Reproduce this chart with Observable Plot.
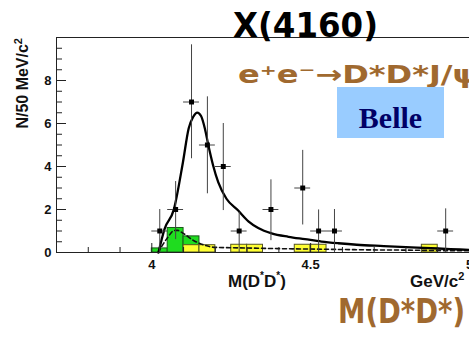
<!DOCTYPE html>
<html><head><meta charset="utf-8">
<script src="https://cdn.jsdelivr.net/npm/d3@7"></script>
<script src="https://cdn.jsdelivr.net/npm/@observablehq/plot@0.6"></script>
<style>body{margin:0;background:#fff}#chart{width:469px;height:338px;overflow:hidden}</style>
</head><body><div id="chart"></div>
<script>
// ---- data ----
const pointX = [4.025, 4.075, 4.125, 4.175, 4.225, 4.275, 4.375, 4.475, 4.525, 4.575, 4.925];
const pointY = [1, 2, 7, 5, 4, 1, 2, 3, 1, 1, 1];
const errLo  = [0, 0.6, 4.36, 2.73, 1.95, 0, 0.55, 1.28, 0, 0, 0];
const errHi  = [2.0, 3.3, 9.66, 7.24, 6.0, 1.87, 3.38, 4.75, 1.98, 2.0, 2.03];
const binWidth = 0.05;

const greenX = [4.0, 4.05, 4.1];
const greenY = [0.19, 1.14, 0.75];
const yellowX = [4.1, 4.15, 4.25, 4.3, 4.45, 4.5, 4.85];
const yellowY = [0.34, 0.34, 0.36, 0.36, 0.36, 0.36, 0.36];

const fitX = [4.021, 4.04, 4.069, 4.098, 4.116, 4.13, 4.143, 4.155, 4.167, 4.178, 4.193, 4.209, 4.235, 4.272, 4.304, 4.335, 4.377, 4.43, 4.482, 4.534, 4.587, 4.645, 4.73, 4.835, 4.94, 5.0];
const fitY = [0, 1.09, 1.98, 4.2, 5.77, 6.3, 6.51, 6.35, 5.77, 4.99, 4.05, 3.27, 2.5, 1.95, 1.45, 1.14, 0.89, 0.73, 0.62, 0.51, 0.43, 0.36, 0.3, 0.23, 0.16, 0.12];

const bkgX = [4.02, 4.03, 4.05, 4.07, 4.08, 4.1, 4.13, 4.16, 4.2, 4.3, 4.4, 4.5, 4.6, 4.7, 4.8, 4.9, 5.0];
const bkgY = [0, 0.25, 0.7, 1.02, 1.03, 0.88, 0.57, 0.37, 0.24, 0.21, 0.18, 0.16, 0.14, 0.12, 0.11, 0.09, 0.08];

const xDomain = [3.7, 5.0];
const yDomain = [0, 10];
const xLabelTicks = [4, 4.5, 5];
const yLabelTicks = [0, 2, 4, 6, 8];
const xMinorTicks = [3.8, 3.9, 4.1, 4.2, 4.3, 4.4, 4.6, 4.7, 4.8, 4.9];
const xMajorTicks = [4, 4.5];
const yMinorTicks = [0.5, 1, 1.5, 2.5, 3, 3.5, 4.5, 5, 5.5, 6.5, 7, 7.5, 8.5, 9, 9.5];
const yMajorTicks = [2, 4, 6, 8];

// ---- tables built from the arrays ----
const points = pointX.map((x, i) => ({x, y: pointY[i], lo: errLo[i], hi: errHi[i]}));
const green = greenX.map((x, i) => ({x1: x, x2: x + binWidth, y: greenY[i]}));
const yellow = yellowX.map((x, i) => ({x1: x, x2: x + binWidth, y: yellowY[i]}));
const fit = fitX.map((x, i) => ({x, y: fitY[i]}));
const bkg = bkgX.map((x, i) => ({x, y: bkgY[i]}));

const xmin = xDomain[0], ymax = yDomain[1];

const svg = Plot.plot({
  width: 469, height: 338,
  marginLeft: 56, marginRight: 0, marginTop: 37, marginBottom: 86,
  style: {fontFamily: "'Liberation Sans', Arial, sans-serif", fontSize: "13px", fontWeight: "bold", background: "#fff", color: "#111"},
  x: {domain: xDomain, ticks: xLabelTicks, tickFormat: d => String(d), tickSize: 0, tickPadding: 7, label: null},
  y: {domain: yDomain, ticks: yLabelTicks, tickSize: 0, tickPadding: 5, label: null},
  marks: [
    Plot.rect(green, {x1: "x1", x2: "x2", y1: 0, y2: "y", fill: "#1fdc1f", stroke: "#1a5a1a", strokeWidth: 1}),
    Plot.rect(yellow, {x1: "x1", x2: "x2", y1: 0, y2: "y", fill: "#ffff33", stroke: "#555522", strokeWidth: 1}),
    Plot.line(bkg, {x: "x", y: "y", stroke: "#111", strokeWidth: 1.6, strokeDasharray: "4,3", curve: "monotone-x"}),
    Plot.line(fit, {x: "x", y: "y", stroke: "#000", strokeWidth: 2.3, curve: "monotone-x"}),
    Plot.ruleX(points, {x: "x", y1: "lo", y2: "hi", stroke: "#444", strokeWidth: 1}),
    Plot.ruleY(points, {y: "y", x1: d => d.x - binWidth / 2, x2: d => d.x + binWidth / 2, stroke: "#444", strokeWidth: 1}),
    Plot.dot(points, {x: "x", y: "y", symbol: "square", r: 2.8, fill: "#000", stroke: "none"}),
    // frame
    Plot.ruleX([xmin], {stroke: "#222", strokeWidth: 1}),
    Plot.ruleY([0], {stroke: "#222", strokeWidth: 1}),
    Plot.ruleY([ymax], {stroke: "#222", strokeWidth: 1}),
    // inner ticks
    Plot.ruleY(yMajorTicks, {y: d => d, x1: () => xmin, x2: () => xmin, insetRight: -10, stroke: "#222"}),
    Plot.ruleY(yMinorTicks, {y: d => d, x1: () => xmin, x2: () => xmin, insetRight: -6, stroke: "#222"}),
    Plot.ruleX(xMajorTicks, {x: d => d, y1: () => 0, y2: () => 0, insetTop: -9, stroke: "#222"}),
    Plot.ruleX(xMinorTicks, {x: d => d, y1: () => 0, y2: () => 0, insetTop: -5, stroke: "#222"})
  ]
});

document.getElementById("chart").appendChild(svg);

// ---- annotations ----
const s = d3.select(svg);
const g = s.append("g").attr("class", "annotations").attr("text-anchor", "start");
const comic = "'Comic Sans MS', 'DejaVu Sans', sans-serif";
const sansB = "'Liberation Sans', Arial, sans-serif";
const brown = "#a0692f";

// y title
const yt = g.append("text").attr("transform", "translate(28,38) rotate(-90)")
  .attr("text-anchor", "end").attr("font-size", 16).attr("font-weight", "bold")
  .attr("font-family", sansB).attr("fill", "#111");
yt.append("tspan").text("N/50 MeV/c");
yt.append("tspan").attr("dy", -6).attr("font-size", 11).text("2");

// x title
const xt = g.append("text").attr("x", 228).attr("y", 287).attr("text-anchor", "start").attr("font-size", 17)
  .attr("font-weight", "bold").attr("font-family", sansB).attr("fill", "#111");
xt.append("tspan").text("M(D");
xt.append("tspan").attr("dy", -8).attr("font-size", 10).text("*");
xt.append("tspan").attr("dy", 8).text("D");
xt.append("tspan").attr("dy", -8).attr("font-size", 10).text("*");
xt.append("tspan").attr("dy", 8).text(")");

const gu = g.append("text").attr("x", 410).attr("y", 287).attr("text-anchor", "start").attr("font-size", 17)
  .attr("font-weight", "bold").attr("font-family", sansB).attr("fill", "#111");
gu.append("tspan").text("GeV/c");
gu.append("tspan").attr("dy", -7).attr("font-size", 11).text("2");

// title
g.append("text").attr("x", 233).attr("y", 37).attr("text-anchor", "start").attr("font-size", 33)
  .attr("font-weight", "bold").attr("font-family", comic).attr("fill", "#000")
  .attr("textLength", 145).attr("lengthAdjust", "spacingAndGlyphs").text("X(4160)");

// reaction
g.append("text").attr("x", 238).attr("y", 83).attr("text-anchor", "start").attr("font-size", 25)
  .attr("font-weight", "bold").attr("font-family", comic).attr("fill", brown)
  .attr("textLength", 240).attr("lengthAdjust", "spacingAndGlyphs")
  .text("e\u207ae\u207b\u2192D*D*J/\u03c8");

// Belle box
g.append("rect").attr("x", 337).attr("y", 87).attr("width", 107).attr("height", 51).attr("fill", "#99ccff");
g.append("text").attr("x", 390.5).attr("y", 128).attr("text-anchor", "middle").attr("font-size", 30)
  .attr("font-weight", "bold").attr("font-family", "'Liberation Serif', 'Times New Roman', serif")
  .attr("fill", "#000066").text("Belle");

// M(D*D*) brown
g.append("text").attr("x", 338).attr("y", 323).attr("text-anchor", "start").attr("font-size", 33)
  .attr("font-weight", "bold").attr("font-family", comic).attr("fill", brown)
  .attr("textLength", 127).attr("lengthAdjust", "spacingAndGlyphs").text("M(D*D*)");
</script></body></html>
